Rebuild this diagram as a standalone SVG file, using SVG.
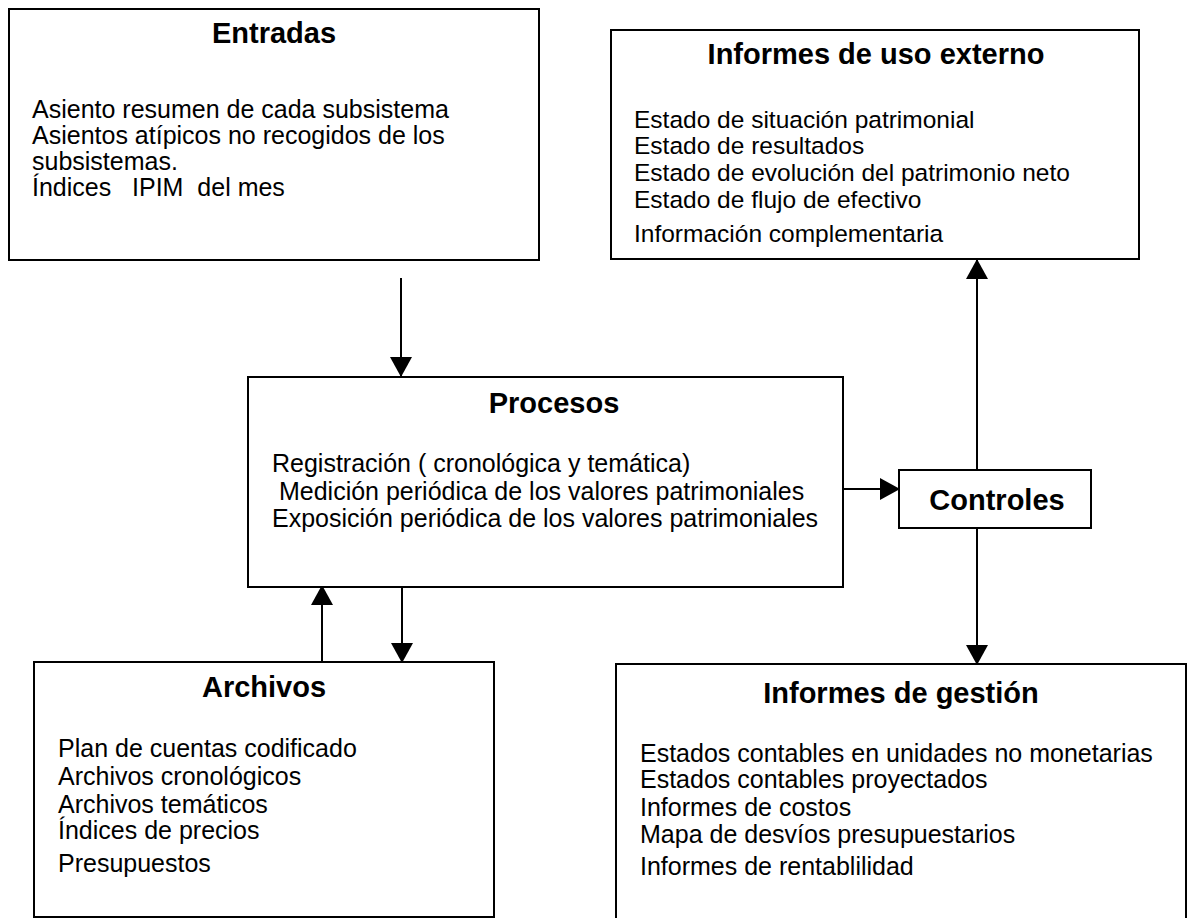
<svg xmlns="http://www.w3.org/2000/svg" width="1188" height="918" viewBox="0 0 1188 918">
<style>
.box{fill:#fff;stroke:#000;stroke-width:2}
.t{font-family:"Liberation Sans",Arial,sans-serif;font-weight:bold;font-size:29px;text-anchor:middle;fill:#000}
.b{font-family:"Liberation Sans",Arial,sans-serif;font-size:25px;fill:#000}
.s{font-size:24.5px}
.c{stroke:#000;stroke-width:2;fill:none}
</style>
<defs>
<marker id="ah" markerUnits="userSpaceOnUse" markerWidth="20" markerHeight="22" refX="19" refY="11" orient="auto">
<path d="M0,0 L20,11 L0,22 Z" fill="#000"/>
</marker>
</defs>
<rect width="1188" height="918" fill="#fff"/>
<g id="connectors">
<line class="c" x1="401" y1="278" x2="401" y2="376" marker-end="url(#ah)"/>
<line class="c" x1="843" y1="489" x2="899" y2="489" marker-end="url(#ah)"/>
<line class="c" x1="977" y1="470" x2="977" y2="260" marker-end="url(#ah)"/>
<line class="c" x1="977" y1="528" x2="977" y2="664" marker-end="url(#ah)"/>
<line class="c" x1="322" y1="662" x2="322" y2="586" marker-end="url(#ah)"/>
<line class="c" x1="402" y1="586" x2="402" y2="662" marker-end="url(#ah)"/>
</g>
<g id="entradas">
<rect class="box" x="9" y="9" width="530" height="251"/>
<text class="t" x="274" y="43">Entradas</text>
<text class="b" x="32" y="118">Asiento resumen de cada subsistema</text>
<text class="b" x="32" y="144">Asientos atípicos no recogidos de los</text>
<text class="b" x="32" y="170">subsistemas.</text>
<text class="b" x="32" y="196" xml:space="preserve">Índices   IPIM  del mes</text>
</g>
<g id="externo">
<rect class="box" x="611" y="30" width="528" height="229"/>
<text class="t" x="876" y="64">Informes de uso externo</text>
<text class="b s" x="634" y="128">Estado de situación patrimonial</text>
<text class="b s" x="634" y="154">Estado de resultados</text>
<text class="b s" x="634" y="181">Estado de evolución del patrimonio neto</text>
<text class="b s" x="634" y="208">Estado de flujo de efectivo</text>
<text class="b s" x="634" y="242">Información complementaria</text>
</g>
<g id="procesos">
<rect class="box" x="248" y="377" width="595" height="210"/>
<text class="t" x="554" y="413">Procesos</text>
<text class="b" x="272" y="472">Registración ( cronológica y temática)</text>
<text class="b" x="272" y="500" xml:space="preserve"> Medición periódica de los valores patrimoniales</text>
<text class="b" x="272" y="527">Exposición periódica de los valores patrimoniales</text>
</g>
<g id="controles">
<rect class="box" x="899" y="470" width="192" height="58"/>
<text class="t" x="997" y="510">Controles</text>
</g>
<g id="archivos">
<rect class="box" x="34" y="662" width="460" height="255"/>
<text class="t" x="264" y="697">Archivos</text>
<text class="b" x="58" y="757">Plan de cuentas codificado</text>
<text class="b" x="58" y="785">Archivos cronológicos</text>
<text class="b" x="58" y="813">Archivos temáticos</text>
<text class="b" x="58" y="839">Índices de precios</text>
<text class="b" x="58" y="872">Presupuestos</text>
</g>
<g id="gestion">
<rect class="box" x="616" y="664" width="570" height="270"/>
<text class="t" x="901" y="703">Informes de gestión</text>
<text class="b" x="640" y="762">Estados contables en unidades no monetarias</text>
<text class="b" x="640" y="788">Estados contables proyectados</text>
<text class="b" x="640" y="816">Informes de costos</text>
<text class="b" x="640" y="843">Mapa de desvíos presupuestarios</text>
<text class="b" x="640" y="875">Informes de rentablilidad</text>
</g>
</svg>
